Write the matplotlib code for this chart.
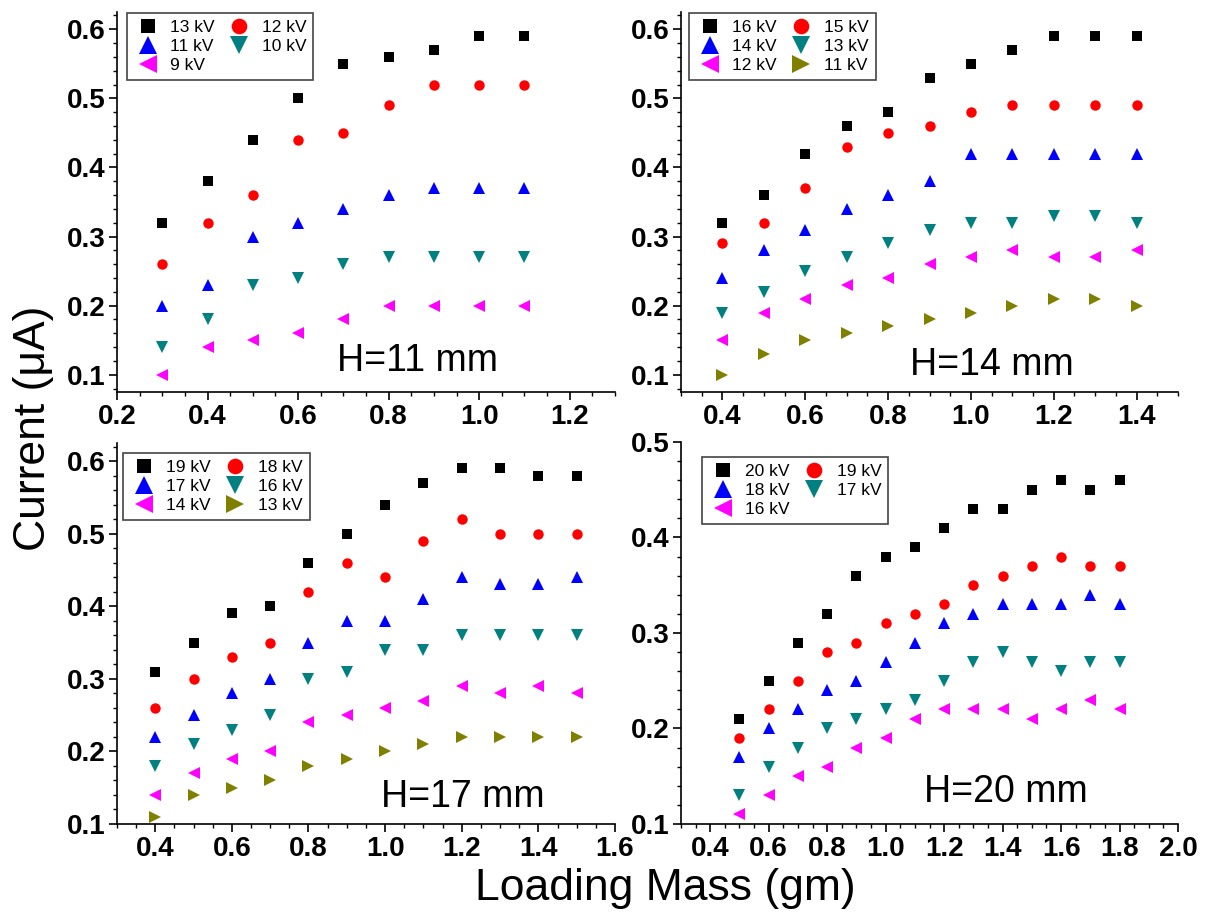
import matplotlib
matplotlib.use('Agg')
import matplotlib.pyplot as plt
from matplotlib.ticker import MultipleLocator

# Loading mass (gm) for each panel
X_H11 = [0.3, 0.4, 0.5, 0.6, 0.7, 0.8, 0.9, 1.0, 1.1]
X_H14 = [0.4, 0.5, 0.6, 0.7, 0.8, 0.9, 1.0, 1.1, 1.2, 1.3, 1.4]
X_H17 = [0.4, 0.5, 0.6, 0.7, 0.8, 0.9, 1.0, 1.1, 1.2, 1.3, 1.4, 1.5]
X_H20 = [0.5, 0.6, 0.7, 0.8, 0.9, 1.0, 1.1, 1.2, 1.3, 1.4, 1.5, 1.6, 1.7, 1.8]

# H = 11 mm
LABELS_H11 = ['13 kV', '12 kV', '11 kV', '10 kV', '9 kV']
H11_13 = [0.32, 0.38, 0.44, 0.50, 0.55, 0.56, 0.57, 0.59, 0.59]
H11_12 = [0.26, 0.32, 0.36, 0.44, 0.45, 0.49, 0.52, 0.52, 0.52]
H11_11 = [0.20, 0.23, 0.30, 0.32, 0.34, 0.36, 0.37, 0.37, 0.37]
H11_10 = [0.14, 0.18, 0.23, 0.24, 0.26, 0.27, 0.27, 0.27, 0.27]
H11_9 = [0.10, 0.14, 0.15, 0.16, 0.18, 0.20, 0.20, 0.20, 0.20]

# H = 14 mm
LABELS_H14 = ['16 kV', '15 kV', '14 kV', '13 kV', '12 kV', '11 kV']
H14_16 = [0.32, 0.36, 0.42, 0.46, 0.48, 0.53, 0.55, 0.57, 0.59, 0.59, 0.59]
H14_15 = [0.29, 0.32, 0.37, 0.43, 0.45, 0.46, 0.48, 0.49, 0.49, 0.49, 0.49]
H14_14 = [0.24, 0.28, 0.31, 0.34, 0.36, 0.38, 0.42, 0.42, 0.42, 0.42, 0.42]
H14_13 = [0.19, 0.22, 0.25, 0.27, 0.29, 0.31, 0.32, 0.32, 0.33, 0.33, 0.32]
H14_12 = [0.15, 0.19, 0.21, 0.23, 0.24, 0.26, 0.27, 0.28, 0.27, 0.27, 0.28]
H14_11 = [0.10, 0.13, 0.15, 0.16, 0.17, 0.18, 0.19, 0.20, 0.21, 0.21, 0.20]

# H = 17 mm
LABELS_H17 = ['19 kV', '18 kV', '17 kV', '16 kV', '14 kV', '13 kV']
H17_19 = [0.31, 0.35, 0.39, 0.40, 0.46, 0.50, 0.54, 0.57, 0.59, 0.59, 0.58, 0.58]
H17_18 = [0.26, 0.30, 0.33, 0.35, 0.42, 0.46, 0.44, 0.49, 0.52, 0.50, 0.50, 0.50]
H17_17 = [0.22, 0.25, 0.28, 0.30, 0.35, 0.38, 0.38, 0.41, 0.44, 0.43, 0.43, 0.44]
H17_16 = [0.18, 0.21, 0.23, 0.25, 0.30, 0.31, 0.34, 0.34, 0.36, 0.36, 0.36, 0.36]
H17_14 = [0.14, 0.17, 0.19, 0.20, 0.24, 0.25, 0.26, 0.27, 0.29, 0.28, 0.29, 0.28]
H17_13 = [0.11, 0.14, 0.15, 0.16, 0.18, 0.19, 0.20, 0.21, 0.22, 0.22, 0.22, 0.22]

# H = 20 mm
LABELS_H20 = ['20 kV', '19 kV', '18 kV', '17 kV', '16 kV']
H20_20 = [0.21, 0.25, 0.29, 0.32, 0.36, 0.38, 0.39, 0.41, 0.43, 0.43, 0.45, 0.46, 0.45, 0.46]
H20_19 = [0.19, 0.22, 0.25, 0.28, 0.29, 0.31, 0.32, 0.33, 0.35, 0.36, 0.37, 0.38, 0.37, 0.37]
H20_18 = [0.17, 0.20, 0.22, 0.24, 0.25, 0.27, 0.29, 0.31, 0.32, 0.33, 0.33, 0.33, 0.34, 0.33]
H20_17 = [0.13, 0.16, 0.18, 0.20, 0.21, 0.22, 0.23, 0.25, 0.27, 0.28, 0.27, 0.26, 0.27, 0.27]
H20_16 = [0.11, 0.13, 0.15, 0.16, 0.18, 0.19, 0.21, 0.22, 0.22, 0.22, 0.21, 0.22, 0.23, 0.22]

# Origin-like symbol cycle: (marker, color, size)
STYLES = [('s', 'black', 6.5), ('o', 'red', 7.5), ('^', 'blue', 8.5),
          ('v', '#008080', 8.5), ('<', '#FF00FF', 8.5), ('>', '#808000', 8.5)]

plt.rcParams['font.family'] = ['Liberation Sans', 'DejaVu Sans']

fig = plt.figure(figsize=(12.07, 9.15), dpi=100)

panels = [
    ([0.0969, 0.5716, 0.4126, 0.4153], X_H11, [H11_13, H11_12, H11_11, H11_10, H11_9],
     LABELS_H11, (0.2, 1.3), (0.075, 0.625), 'H=11 mm', (0.603, 0.055), (0.02, 0.997)),
    ([0.5642, 0.5716, 0.4118, 0.4153], X_H14, [H14_16, H14_15, H14_14, H14_13, H14_12, H14_11],
     LABELS_H14, (0.3, 1.5), (0.075, 0.625), 'H=14 mm', (0.625, 0.045), (0.016, 0.997)),
    ([0.0969, 0.0995, 0.4126, 0.4164], X_H17, [H17_19, H17_18, H17_17, H17_16, H17_14, H17_13],
     LABELS_H17, (0.3, 1.6), (0.1, 0.625), 'H=17 mm', (0.695, 0.044), (0.012, 0.974)),
    ([0.5642, 0.0995, 0.4118, 0.4175], X_H20, [H20_20, H20_19, H20_18, H20_17, H20_16],
     LABELS_H20, (0.3, 2.0), (0.1, 0.5), 'H=20 mm', (0.653, 0.057), (0.042, 0.96)),
]

for rect, xs, series, labels, xlim, ylim, htext, hpos, legpos in panels:
    ax = fig.add_axes(rect)
    handles = []
    for ys, (mk, col, ms) in zip(series, STYLES):
        h, = ax.plot(xs, ys, linestyle='none', marker=mk, color=col,
                     markersize=ms, markeredgewidth=0)
        handles.append(h)

    ax.set_xlim(*xlim)
    ax.set_ylim(*ylim)
    ax.xaxis.set_major_locator(MultipleLocator(0.2))
    ax.xaxis.set_minor_locator(MultipleLocator(0.05))
    ax.yaxis.set_major_locator(MultipleLocator(0.1))
    ax.yaxis.set_minor_locator(MultipleLocator(0.02))
    ax.xaxis.set_major_formatter(matplotlib.ticker.FormatStrFormatter('%.1f'))
    ax.yaxis.set_major_formatter(matplotlib.ticker.FormatStrFormatter('%.1f'))

    ax.spines['top'].set_visible(False)
    ax.spines['right'].set_visible(False)
    for s in ('left', 'bottom'):
        ax.spines[s].set_linewidth(1.2)
    ax.tick_params(which='major', direction='out', length=5.5, width=1.2,
                   labelsize=20, pad=3)
    ax.tick_params(which='minor', direction='out', length=3, width=1.0)
    for lab in ax.get_xticklabels() + ax.get_yticklabels():
        lab.set_fontweight('bold')

    ax.text(hpos[0], hpos[1], htext, transform=ax.transAxes,
            fontsize=27, ha='center', va='baseline')

    # legend fills row by row like the original
    order = list(range(0, len(handles), 2)) + list(range(1, len(handles), 2))
    leg = ax.legend([handles[i] for i in order], [labels[i] for i in order],
                    ncol=2, loc='upper left', bbox_to_anchor=legpos,
                    borderaxespad=0, fontsize=12.5, markerscale=1.5,
                    frameon=True, fancybox=False, framealpha=1,
                    edgecolor='#444444', handlelength=1.6, handletextpad=0.5,
                    columnspacing=0.6, labelspacing=0.22, borderpad=0.4,
                    numpoints=1)
    leg.get_frame().set_linewidth(1.2)

fig.text(0.028, 0.532, 'Current (\u03bcA)', rotation=90, fontsize=32,
         ha='center', va='center')
fig.text(0.551, 0.029, 'Loading Mass (gm)', fontsize=32,
         ha='center', va='center')

plt.savefig('out.png', dpi=100)
